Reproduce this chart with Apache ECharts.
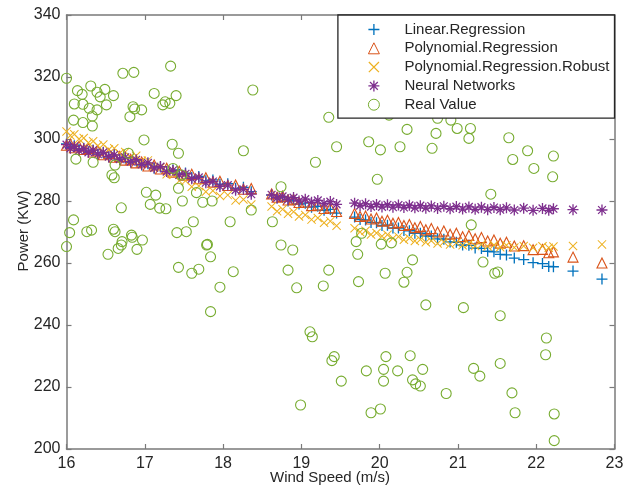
<!DOCTYPE html>
<html>
<head>
<meta charset="utf-8">
<script src="https://cdn.jsdelivr.net/npm/echarts@6/dist/echarts.min.js"></script>
<style>
  html, body { margin: 0; padding: 0; background: #fff; }
  #chart { width: 638px; height: 487px; }
</style>
</head>
<body>
<div id="chart"></div>
<script>
// wind speed of the model predictions
const predX = [16.00,16.05,16.10,16.16,16.22,16.28,16.34,16.40,16.47,16.54,
  16.61,16.68,16.75,16.82,16.89,16.96,17.04,17.12,17.20,17.28,
  17.36,17.44,17.52,17.60,17.69,17.78,17.87,17.96,18.06,18.16,
  18.26,18.36,
  18.62,18.69,18.76,18.83,18.90,18.97,19.05,19.13,19.21,19.29,19.37,19.45,
  19.68,19.75,19.82,19.89,19.96,20.03,20.10,20.17,20.24,20.31,
  20.38,20.45,20.52,20.59,20.66,20.74,20.82,20.90,20.98,21.06,
  21.14,21.22,21.30,21.38,21.46,21.54,21.62,21.72,21.84,21.96,
  22.08,22.16,22.22,
  22.47,22.84];

const linearY = [298.4,297.3,297.8,296.6,297.0,295.9,296.4,295.1,295.6,294.2,
  294.8,293.4,293.9,292.5,293.0,291.6,292.0,290.6,291.0,289.6,
  290.0,288.6,289.0,287.6,287.9,286.5,286.8,285.4,285.6,284.1,
  284.4,283.0,
  281.9,281.0,281.2,280.0,280.3,279.0,279.3,278.0,278.3,277.0,277.3,276.1,
  274.8,274.0,273.9,273.1,273.0,272.1,272.2,271.3,271.3,270.5,
  270.4,269.6,269.6,268.7,268.7,267.8,267.7,266.8,266.7,265.8,
  265.7,264.8,264.7,263.8,263.6,262.8,262.6,261.6,261.1,260.1,
  259.8,258.9,258.8,
  257.4,254.8];

const polyY = [298.0,298.4,297.2,297.7,296.6,296.9,295.8,296.2,294.9,295.3,
  294.1,294.4,293.2,293.5,292.3,292.6,291.3,291.6,290.3,290.6,
  289.3,289.6,288.3,288.6,287.2,287.5,286.1,286.4,285.0,285.2,
  283.8,284.0,
  282.3,281.2,281.5,280.3,280.6,279.5,279.7,278.5,278.7,277.6,277.8,276.6,
  276.0,275.0,275.2,274.2,274.5,273.5,273.8,272.8,273.1,272.1,
  272.4,271.4,271.8,270.7,271.1,270.0,270.3,269.3,269.6,268.5,
  268.9,267.8,268.2,267.1,267.4,266.4,266.7,265.5,265.6,264.3,
  264.4,263.3,263.6,
  261.9,260.0];

const robustY = [302.4,301.1,301.5,300.0,300.3,298.8,299.3,297.8,298.2,296.6,
  297.0,295.4,295.8,294.2,294.6,293.0,293.1,291.0,290.8,288.6,
  288.5,286.5,286.5,284.6,284.8,283.0,283.3,281.6,281.9,280.2,
  280.5,278.9,
  278.2,276.7,277.3,275.9,276.5,275.0,275.5,274.0,274.5,273.0,273.5,272.0,
  271.2,270.0,270.4,269.2,269.7,268.6,269.1,268.0,268.5,267.5,
  268.0,267.1,267.6,266.7,267.2,266.3,266.8,266.0,266.5,265.7,
  266.2,265.5,266.0,265.3,265.8,265.1,265.7,265.0,265.5,264.9,
  265.4,264.9,265.3,
  265.5,266.0];

const neuralY = [298.2,297.0,297.6,296.3,296.9,295.7,296.4,295.1,295.7,294.3,
  294.9,293.5,294.1,292.7,293.3,291.8,292.3,290.7,291.1,289.5,
  289.9,288.4,288.8,287.2,287.6,285.9,286.3,284.7,285.1,283.5,
  283.8,282.2,
  282.0,281.0,281.5,280.5,281.1,280.0,280.6,279.6,280.2,279.2,279.8,278.9,
  279.3,278.5,279.1,278.2,278.9,278.1,278.8,278.0,278.7,277.9,
  278.6,277.8,278.5,277.7,278.4,277.6,278.3,277.5,278.2,277.4,
  278.1,277.3,278.0,277.2,277.9,277.2,277.8,277.1,277.7,277.0,
  277.6,277.0,277.5,
  277.2,277.1];

// measured values
const realX = [16.00,16.72,16.86,17.33,16.14,16.20,16.31,16.39,16.49,16.60,
  16.10,16.21,16.43,16.51,16.29,16.39,16.33,16.09,16.21,16.33,
  16.85,16.87,16.96,16.81,17.12,17.26,17.32,17.40,17.23,16.99,
  17.35,17.43,18.26,16.12,16.34,16.79,16.62,16.58,16.61,17.36,
  17.47,17.43,17.02,17.14,17.07,16.70,17.27,17.48,17.66,17.74,
  17.86,18.09,17.62,16.09,16.04,16.26,16.32,16.60,16.62,16.83,
  17.41,17.53,16.70,16.84,16.97,17.19,17.79,18.74,18.63,18.74,
  18.89,18.38,19.18,16.00,16.53,16.66,16.71,16.90,17.43,17.60,
  17.69,17.80,17.84,17.96,17.84,18.13,19.35,19.45,19.86,20.01,
  20.26,20.35,20.67,20.72,19.97,18.36,19.70,19.77,20.02,20.15,
  20.12,20.74,20.91,20.99,21.16,21.14,21.65,21.89,21.70,22.22,
  21.97,22.21,21.42,21.17,18.83,18.94,19.35,19.28,19.72,19.73,
  20.07,20.35,20.42,20.31,20.59,19.11,19.14,19.42,19.39,19.51,
  19.83,20.08,20.05,20.05,20.23,20.39,20.55,20.42,20.46,20.52,
  18.99,19.89,20.01,21.32,21.47,21.51,21.07,21.54,22.13,22.12,
  21.20,21.28,21.54,20.85,21.69,21.73,22.23,22.23];

const realY = [319.6,321.2,321.5,323.5,315.6,314.4,317.1,315.1,316.0,314.0,
  311.3,311.2,313.6,311.0,309.9,309.4,307.4,306.1,305.3,304.2,
  310.4,309.7,309.4,307.2,314.7,312.0,311.5,314.0,311.0,299.7,
  298.3,295.4,296.2,293.5,292.5,295.4,291.6,288.4,287.5,290.5,
  288.4,284.1,282.8,281.9,278.9,277.8,277.5,280.0,282.7,279.6,
  280.0,273.3,273.3,273.9,269.8,270.1,270.6,270.9,270.1,269.0,
  269.8,270.1,265.8,268.3,267.4,277.7,265.8,284.6,273.3,265.8,
  264.2,315.8,292.5,265.3,262.8,264.7,266.9,264.4,258.6,256.7,
  258.0,266.0,262.0,252.2,244.3,257.2,307.0,297.5,299.1,296.5,
  297.5,303.1,297.0,301.8,287.0,277.1,266.9,269.6,266.1,266.5,
  307.7,306.7,306.1,303.4,303.4,300.2,300.4,296.2,293.4,294.5,
  290.5,287.8,282.2,272.3,257.7,252.0,257.7,252.6,262.8,254.0,
  256.7,257.0,261.0,253.8,246.5,237.8,236.2,229.8,228.5,221.9,
  225.2,229.8,225.7,221.9,225.2,230.1,225.7,222.3,221.0,220.3,
  214.2,211.7,212.9,260.3,256.7,257.1,245.6,243.0,235.8,230.4,
  226.0,223.5,227.6,217.9,218.1,211.7,211.3,202.7];

const xTicks = [16, 23, 1];   // min, max, step
const yTicks = [200, 340, 20];
const seriesNames = ['Linear.Regression', 'Polynomial.Regression', 'Polynomial.Regression.Robust', 'Neural Networks', 'Real Value'];

// matlab-like marker shapes
const plusPath = 'path://M4.4,0H5.6V4.4H10V5.6H5.6V10H4.4V5.6H0V4.4H4.4Z';
const crossPath = 'path://M0,0.8L0.8,0L10,9.2L9.2,10Z' + 'M9.2,0L10,0.8L0.8,10L0,9.2Z';
const starPath = plusPath +
  'M1.06,1.86L1.86,1.06L8.94,8.14L8.14,8.94Z' +
  'M8.14,1.06L8.94,1.86L1.86,8.94L1.06,8.14Z';

const pairs = (xs, ys) => xs.map((x, i) => [x, ys[i]]);

const axisCol = '#7a7a7a';
const labelCol = '#262626';
const font = 'Liberation Sans, Arial, sans-serif';

const xAxisBase = {
  type: 'value', min: xTicks[0], max: xTicks[1], interval: xTicks[2],
  axisLine: { show: true, lineStyle: { color: axisCol, width: 1.5 } },
  axisTick: { show: true, inside: true, length: 5, lineStyle: { color: axisCol, width: 1.2 } },
  splitLine: { show: false }
};
const yAxisBase = {
  type: 'value', min: yTicks[0], max: yTicks[1], interval: yTicks[2],
  axisLine: { show: true, lineStyle: { color: axisCol, width: 1.5 } },
  axisTick: { show: true, inside: true, length: 5, lineStyle: { color: axisCol, width: 1.2 } },
  splitLine: { show: false }
};

const chart = echarts.init(document.getElementById('chart'), null, { renderer: 'canvas' });
chart.setOption({
  animation: false,
  textStyle: { fontFamily: font },
  grid: { left: 66.5, right: 23.5, top: 15, bottom: 38 },
  xAxis: [
    Object.assign({}, xAxisBase, {
      position: 'bottom',
      axisLabel: { color: labelCol, fontSize: 16, margin: 7, fontFamily: font }
    }),
    Object.assign({}, xAxisBase, { position: 'top', axisLabel: { show: false } })
  ],
  yAxis: [
    Object.assign({}, yAxisBase, {
      position: 'left',
      axisLabel: { color: labelCol, fontSize: 16, margin: 6, fontFamily: font }
    }),
    Object.assign({}, yAxisBase, { position: 'right', axisLabel: { show: false } })
  ],
  legend: {
    orient: 'vertical',
    right: 23.5, top: 15,
    padding: [7, 5, 6, 30],
    itemGap: 3.8,
    itemWidth: 11, itemHeight: 11,
    itemStyle: { borderWidth: 1 },
    backgroundColor: '#fff',
    borderColor: '#262626', borderWidth: 1.3, borderRadius: 0,
    textStyle: { fontSize: 15, color: labelCol, fontFamily: font, padding: [0, 0, 0, 20] },
    data: seriesNames
  },
  graphic: [
    { type: 'text', x: 330, y: 478, z: 10,
      style: { text: 'Wind Speed (m/s)', fontSize: 15, fontFamily: font, fill: labelCol, textAlign: 'center', textVerticalAlign: 'middle' } },
    { type: 'text', x: 24, y: 231, rotation: Math.PI / 2, z: 10,
      style: { text: 'Power (KW)', fontSize: 15, fontFamily: font, fill: labelCol, textAlign: 'center', textVerticalAlign: 'middle' } }
  ],
  series: [
    {
      name: seriesNames[0], type: 'scatter',
      symbol: plusPath, symbolSize: 11,
      itemStyle: { color: '#0072BD', opacity: 1 },
      data: pairs(predX, linearY)
    },
    {
      name: seriesNames[1], type: 'scatter',
      symbol: 'triangle', symbolSize: 10,
      itemStyle: { color: 'rgba(0,0,0,0)', borderColor: '#D95319', borderWidth: 1.1, opacity: 1 },
      data: pairs(predX, polyY)
    },
    {
      name: seriesNames[2], type: 'scatter',
      symbol: crossPath, symbolSize: 9,
      itemStyle: { color: '#EDB120', opacity: 1 },
      data: pairs(predX, robustY)
    },
    {
      name: seriesNames[3], type: 'scatter',
      symbol: starPath, symbolSize: 11,
      itemStyle: { color: '#7E2F8E', opacity: 1 },
      data: pairs(predX, neuralY)
    },
    {
      name: seriesNames[4], type: 'scatter',
      symbol: 'circle', symbolSize: 10,
      itemStyle: { color: 'rgba(0,0,0,0)', borderColor: '#77AC30', borderWidth: 1.1, opacity: 1 },
      data: pairs(realX, realY)
    }
  ]
});
</script>
</body>
</html>
